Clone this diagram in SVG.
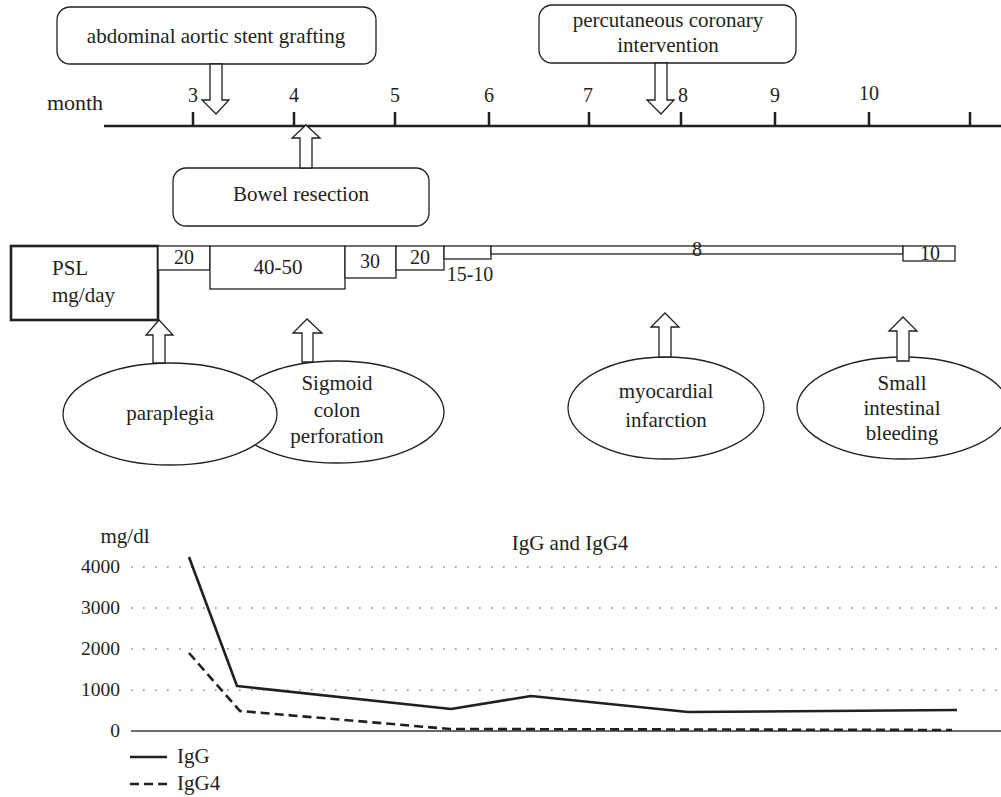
<svg xmlns="http://www.w3.org/2000/svg" width="1001" height="797" viewBox="0 0 1001 797">
<style>
text{font-family:"Liberation Serif","Times New Roman",serif;fill:#231f20;}
.t21{font-size:21px;text-anchor:middle;}
.t20{font-size:20px;text-anchor:middle;}
.ax{font-size:19.5px;text-anchor:end;}
.box{fill:#fff;stroke:#231f20;stroke-width:1.3;}
.arr{fill:#fff;stroke:#231f20;stroke-width:1.3;stroke-linejoin:miter;}
.ell{fill:#fff;stroke:#231f20;stroke-width:1.3;}
.axis{stroke:#231f20;stroke-width:2.5;fill:none;}
.grid{stroke:#8a8a8a;stroke-width:1.6;stroke-dasharray:1.6 10.4;fill:none;}
.igg{stroke:#231f20;stroke-width:2.6;fill:none;stroke-linejoin:round;}
.igg4{stroke:#231f20;stroke-width:2.6;fill:none;stroke-dasharray:9 5;}
</style>
<rect width="1001" height="797" fill="#fff"/>

<!-- timeline -->
<g id="timeline">
<text x="75" y="110" font-size="22" text-anchor="middle">month</text>
<line x1="104" y1="126" x2="1001" y2="126" class="axis"/>
<path class="axis" d="M193 112V126M294 112V126M395 112V126M489 112V126M589 112V126M681 112V126M775 112V126M869 112V126M970 112V126"/>
<text x="193" y="102" class="t20">3</text>
<text x="294" y="102" class="t20">4</text>
<text x="395" y="102" class="t20">5</text>
<text x="489" y="102" class="t20">6</text>
<text x="588" y="102" class="t20">7</text>
<text x="683" y="102" class="t20">8</text>
<text x="775" y="102" class="t20">9</text>
<text x="869" y="100" class="t20">10</text>
</g>

<g id="node-stent">
<rect x="57" y="7" width="319" height="57" rx="13" class="box"/>
<text x="216" y="43" class="t21">abdominal aortic stent grafting</text>
</g>
<g id="node-pci">
<rect x="539" y="5" width="257" height="58" rx="13" class="box"/>
<text x="668" y="27" class="t21">percutaneous coronary</text>
<text x="668" y="52" class="t21">intervention</text>
</g>
<g id="node-bowel">
<rect x="173" y="168" width="256" height="58" rx="13" class="box"/>
<text x="301" y="201" class="t21">Bowel resection</text>
</g>

<!-- PSL dosing -->
<g id="node-psl">
<rect x="11" y="246" width="147" height="74" fill="#fff" stroke="#231f20" stroke-width="2.6"/>
<text x="52" y="275" font-size="21">PSL</text>
<text x="52" y="302" font-size="21">mg/day</text>
</g>
<g id="dose-20a"><rect x="158" y="246" width="52" height="24" class="box"/><text x="184" y="264" class="t20">20</text></g>
<g id="dose-40-50"><rect x="210" y="246" width="135" height="43" class="box"/><text x="278" y="274" class="t21">40-50</text></g>
<g id="dose-30"><rect x="345" y="246" width="51" height="32" class="box"/><text x="370" y="268" class="t20">30</text></g>
<g id="dose-20b"><rect x="396" y="246" width="48" height="24" class="box"/><text x="420" y="264" class="t20">20</text></g>
<g id="dose-15-10"><rect x="444" y="246" width="47" height="13" class="box"/><text x="470" y="281" class="t20">15-10</text></g>
<g id="dose-8"><rect x="491" y="246" width="412" height="8" class="box"/><text x="697" y="256" class="t20">8</text></g>
<g id="dose-10"><rect x="903" y="246" width="52" height="15" class="box"/><text x="930" y="260" class="t20">10</text></g>

<!-- events -->
<g id="node-sigmoid">
<ellipse cx="337" cy="412" rx="107" ry="51" class="ell"/>
<text x="337" y="390" class="t21">Sigmoid</text>
<text x="337" y="417" class="t21">colon</text>
<text x="337" y="443" class="t21">perforation</text>
</g>
<g id="node-paraplegia">
<ellipse cx="170" cy="414" rx="107" ry="51" class="ell"/>
<text x="170" y="420" class="t21">paraplegia</text>
</g>
<g id="node-mi">
<ellipse cx="666" cy="408" rx="98" ry="51" class="ell"/>
<text x="666" y="398" class="t21">myocardial</text>
<text x="666" y="427" class="t21">infarction</text>
</g>
<g id="node-bleeding">
<ellipse cx="903" cy="408" rx="106" ry="51" class="ell"/>
<text x="902" y="390" class="t21">Small</text>
<text x="902" y="415" class="t21">intestinal</text>
<text x="902" y="440" class="t21">bleeding</text>
</g>

<g id="connectors">
<polygon class="arr" points="210,64 222,64 222,100 229,100 216,114 202,100 210,100"/>
<polygon class="arr" points="655,63 667,63 667,100 674,100 661,114 647,100 655,100"/>
<polygon class="arr" points="300,168 300,138 292,138 306,125 320,138 312,138 312,168"/>
<polygon class="arr" points="153,363 153,335 146,335 159,320 173,335 165,335 165,363"/>
<polygon class="arr" points="302,362 302,333 293,333 307,319 322,333 313,333 313,362"/>
<polygon class="arr" points="659,357 659,327 651,327 665,313 679,327 671,327 671,357"/>
<polygon class="arr" points="897,361 897,331 889,331 903,317 917,331 909,331 909,361"/>
</g>

<!-- chart -->
<g id="chart">
<text x="125" y="543" class="t21">mg/dl</text>
<text x="570" y="550" class="t21">IgG and IgG4</text>
<text x="120" y="573" class="ax">4000</text>
<text x="120" y="614" class="ax">3000</text>
<text x="120" y="655" class="ax">2000</text>
<text x="120" y="696" class="ax">1000</text>
<text x="120" y="737" class="ax">0</text>
<line x1="131" y1="567" x2="1001" y2="567" class="grid"/>
<line x1="131" y1="608" x2="1001" y2="608" class="grid"/>
<line x1="131" y1="649" x2="1001" y2="649" class="grid"/>
<line x1="131" y1="690" x2="1001" y2="690" class="grid"/>
<line x1="131" y1="731" x2="1001" y2="731" stroke="#3a3a3a" stroke-width="1.3"/>
<polyline class="igg" points="189,557 237,686 451,709 531,696 688,712 957,710"/>
<polyline class="igg4" points="189,653 240,711 450,729 952,730"/>
<line x1="130" y1="757" x2="167" y2="757" class="igg"/>
<text x="177" y="763" font-size="21">IgG</text>
<line x1="130" y1="784" x2="167" y2="784" class="igg4"/>
<text x="177" y="790" font-size="21">IgG4</text>
</g>
</svg>
